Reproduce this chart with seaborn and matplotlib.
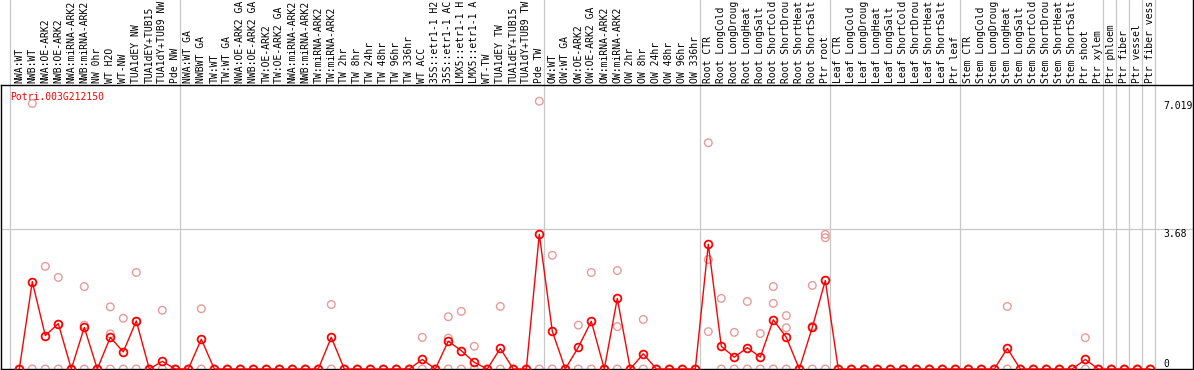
import matplotlib
matplotlib.use("Agg")
import matplotlib.pyplot as plt
import matplotlib.transforms as mtransforms
import numpy as np
import pandas as pd
import seaborn as sns

nan = np.nan

gene = "Potri.003G212150"

# labels as they are visible in the reference (long ones are cut at the top)
labels = [
    # group 1
    "NWA:WT", "NWB:WT", "NWA:OE-ARK2", "NWB:OE-ARK2", "NWA:miRNA-ARK2", "NWB:miRNA-ARK2",
    "NW 0hr", "WT H2O", "WT-NW", "TUA1dEY NW", "TUA1dEY+TUB15", "TUA1dY+TUB9 NW", "Pde NW",
    # group 2
    "NWA:WT GA", "NWBWT GA", "TW:WT", "TW:WT GA", "NWA:OE-ARK2 GA", "NWB:OE-ARK2 GA",
    "TW:OE-ARK2", "TW:OE-ARK2 GA", "NWA:miRNA-ARK2", "NWB:miRNA-ARK2", "TW:miRNA-ARK2",
    "TW:miRNA-ARK2", "TW 2hr", "TW 8hr", "TW 24hr", "TW 48hr", "TW 96hr", "TW 336hr", "WT ACC",
    "35S::etr1-1 H2", "35S::etr1-1 AC", "LMX5::etr1-1 H", "LMX5::etr1-1 A", "WT-TW",
    "TUA1dEY TW", "TUA1dEY+TUB15", "TUA1dY+TUB9 TW", "Pde TW",
    # group 3
    "OW:WT", "OW:WT GA", "OW:OE-ARK2", "OW:OE-ARK2 GA", "OW:miRNA-ARK2", "OW:miRNA-ARK2",
    "OW 2hr", "OW 8hr", "OW 24hr", "OW 48hr", "OW 96hr", "OW 336hr",
    # group 4
    "Root CTR", "Root LongCold", "Root LongDroug", "Root LongHeat", "Root LongSalt",
    "Root ShortCold", "Root ShortDrou", "Root ShortHeat", "Root ShortSalt", "Ptr root",
    # group 5
    "Leaf CTR", "Leaf LongCold", "Leaf LongDroug", "Leaf LongHeat", "Leaf LongSalt",
    "Leaf ShortCold", "Leaf ShortDrou", "Leaf ShortHeat", "Leaf ShortSalt", "Ptr leaf",
    # group 6
    "Stem CTR", "Stem LongCold", "Stem LongDroug", "Stem LongHeat", "Stem LongSalt",
    "Stem ShortCold", "Stem ShortDrou", "Stem ShortHeat", "Stem ShortSalt", "Ptr shoot",
    "Ptr xylem",
    # singles
    "Ptr phloem", "Ptr fiber", "Ptr vessel", "Ptr fiber vess",
]

group_sizes = [13, 28, 12, 10, 10, 11, 1, 1, 1, 1]

means = [
    0, 2.29, 0.875, 1.19, 0, 1.09, 0, 0.83, 0.45, 1.26, 0, 0.20, 0,
    0, 0.78, 0, 0, 0, 0, 0, 0, 0, 0, 0, 0.83, 0, 0, 0, 0, 0, 0, 0.25, 0, 0.73, 0.48, 0.175,
    0, 0.54, 0, 0, 3.53,
    0.99, 0, 0.57, 1.25, 0, 1.85, 0, 0.40, 0, 0, 0, 0,
    3.27, 0.595, 0.31, 0.56, 0.31, 1.29, 0.83, 0, 1.09, 2.32,
    0, 0, 0, 0, 0, 0, 0, 0, 0, 0,
    0, 0, 0, 0.54, 0, 0, 0, 0, 0, 0.25, 0,
    0, 0, 0, 0,
]

rep_a = [
    0, 6.96, 2.69, 2.40, 0, 2.16, 0, 1.63, 1.33, 2.53, 0, 1.54, 0,
    0, 1.58, 0, 0, 0, 0, 0, 0, 0, 0, 0, 1.69, 0, 0, 0, 0, 0, 0, 0.83, 0, 1.37, 1.51, 0.595,
    0, 1.64, 0, 0, 7.019,
    2.98, 0, 1.15, 2.53, 0, 2.58, 0, 1.30, 0, 0, 0, 0,
    5.93, 1.85, 0.96, 1.77, 0.93, 2.16, 1.40, 0, 2.19, 3.53,
    0, 0, 0, 0, 0, 0, 0, 0, 0, 0,
    0, 0, 0, 1.64, 0, 0, 0, 0, 0, 0.82, 0,
    0, 0, 0, 0,
]

rep_b = [
    nan, nan, nan, 1.17, nan, 1.15, nan, 0.92, nan, 1.25, nan, nan, nan,
    nan, nan, nan, nan, nan, nan, nan, nan, nan, nan, nan, nan, nan, nan, nan, nan, nan, nan,
    nan, nan, 0.81, nan, nan, nan, nan, nan, nan, nan,
    nan, nan, nan, nan, nan, 1.11, nan, nan, nan, nan, nan, nan,
    2.87, nan, nan, nan, nan, 1.72, 1.08, nan, 1.12, 3.44,
    nan, nan, nan, nan, nan, nan, nan, nan, nan, nan,
    nan, nan, nan, nan, nan, nan, nan, nan, nan, nan, nan,
    nan, nan, nan, nan,
]

rep_c = [0] * 53 + [0.98] + [0] * 34

y_marks = [0, 3.68, 7.019]

# ------------------------------------------------------------------
sns.set_theme(style="white")
plt.rcParams["font.family"] = ["DejaVu Sans Mono"]

W, H = 1194, 370
fig = plt.figure(figsize=(W / 100, H / 100), dpi=100)
fig.patch.set_facecolor("white")
ax = fig.add_axes([1 / W, 1 / H, 1192 / W, 284 / H])
ax.set_facecolor("white")

n = len(labels)
pos = np.arange(n)

df_mean = pd.DataFrame({"pos": pos, "expr": means})
df_rep = pd.concat([
    pd.DataFrame({"pos": pos, "expr": rep_a}),
    pd.DataFrame({"pos": pos, "expr": rep_b}),
    pd.DataFrame({"pos": pos, "expr": rep_c}),
]).dropna()

pink = "#e99a9a"
grid = "#c8c8c8"
fs = 7.0

# grid lines (vertical ones run up through the label area)
pitch_px = 13.0
axes_h_px = 284.0
bounds = [-0.5]
acc = 0
for g in group_sizes:
    acc += g
    bounds.append(acc - 0.5)
for i, b in enumerate(bounds):
    off = -0.19 if i == 0 else -0.115
    ax.axvline(b + off, ymin=0, ymax=369 / axes_h_px, color=grid, lw=0.9,
               clip_on=False, zorder=0)
ax.axhline(y_marks[1], color=grid, lw=0.9, zorder=0)

sns.scatterplot(data=df_rep, x="pos", y="expr", ax=ax, marker="o", s=30,
                facecolor="none", edgecolor=pink, linewidth=1.0,
                clip_on=False, zorder=2, legend=False)

sns.lineplot(data=df_mean, x="pos", y="expr", ax=ax, estimator=None,
             color="red", lw=1.0, marker="o", markersize=5.6,
             markerfacecolor="none", markeredgecolor="red",
             markeredgewidth=1.3, clip_on=False, zorder=3)

left_px, right_px, first_px = 1.0, 1193.0, 19.3
ax.set_xlim((left_px - first_px) / pitch_px, (right_px - first_px) / pitch_px)
ax.set_ylim(0, 7.444)

ax.set_xticks(pos)
ax.set_xticklabels(labels, rotation=90, fontsize=fs, color="black")
ax.xaxis.tick_top()
ax.tick_params(axis="x", length=0, pad=1.2, top=True, bottom=False,
               labeltop=True, labelbottom=False)
ax.set_yticks([])
ax.set_xlabel("")
ax.set_ylabel("")

for sp in ax.spines.values():
    sp.set_visible(True)
    sp.set_color("black")
    sp.set_linewidth(1.0)

# right border continues up through the label area
ax.axvline(ax.get_xlim()[1], ymin=1, ymax=370 / axes_h_px, color="black",
           lw=1.0, clip_on=False)

trans = mtransforms.blended_transform_factory(ax.transAxes, ax.transData)
tx = (1163.0 - left_px) / 1192
ax.text(tx, y_marks[2], "7.019", transform=trans, ha="left", va="top",
        fontsize=fs, color="black")
ax.text(tx, y_marks[1], "3.68", transform=trans, ha="left", va="top",
        fontsize=fs, color="black")
ax.text(tx, y_marks[0], "0", transform=trans, ha="left", va="bottom",
        fontsize=fs, color="black")

ax.text((10 - left_px) / 1192, 1 - 12 / axes_h_px, gene, transform=ax.transAxes,
        ha="left", va="center", fontsize=fs, color="red")

fig.savefig("out.png", dpi=100, facecolor="white")
